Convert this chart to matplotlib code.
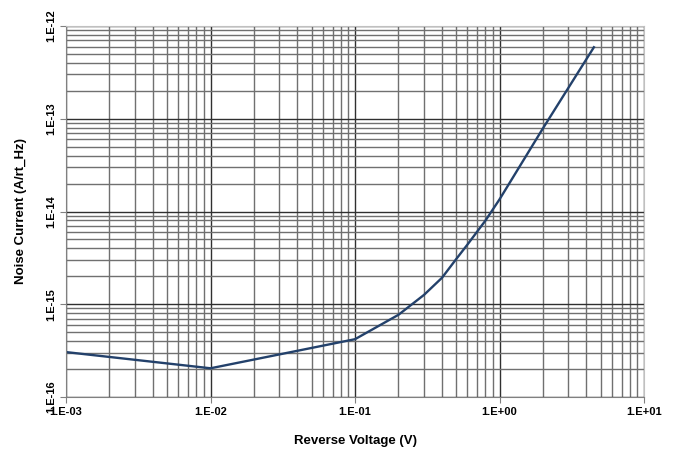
import math
import matplotlib.pyplot as plt
from matplotlib.ticker import LogLocator, FuncFormatter, NullFormatter

# Noise current vs reverse voltage
voltage = [0.001, 0.01, 0.1, 0.2, 0.3, 0.4, 0.5, 0.6, 0.8, 1.0, 2.0, 4.5]
noise = [3.05e-16, 2.04e-16, 4.2e-16, 7.7e-16, 1.26e-15, 1.93e-15, 3.05e-15,
         4.4e-15, 8.0e-15, 1.35e-14, 7.9e-14, 5.9e-13]

xlabel = "Reverse Voltage (V)"
ylabel = "Noise Current (A/rt_Hz)"
line_color = '#23416b'

plt.rcParams['font.family'] = ['Liberation Sans', 'DejaVu Sans']


# Excel style labels like 1.E-03
def sci(v, pos):
    exp = int(round(math.log10(v)))
    sign = '+' if exp >= 0 else '-'
    return "1.E%s%02d" % (sign, abs(exp))


def main():
    fig = plt.figure(figsize=(6.79, 4.5), dpi=100)
    ax = fig.add_axes([66 / 679, 1 - 397 / 450, (644 - 66) / 679, (397 - 26) / 450])

    ax.plot(voltage, noise, color=line_color, linewidth=1.7)

    ax.set_xscale('log')
    ax.set_yscale('log')
    ax.set_xlim(1e-3, 1e1)
    ax.set_ylim(1e-16, 1e-12)

    for axis in (ax.xaxis, ax.yaxis):
        axis.set_major_locator(LogLocator(base=10, numticks=10))
        axis.set_minor_locator(LogLocator(base=10, subs=range(2, 10), numticks=10))
        axis.set_major_formatter(FuncFormatter(sci))
        axis.set_minor_formatter(NullFormatter())

    ax.grid(True, which='major', color='#303030', linewidth=1.0)
    ax.grid(True, which='minor', color='#707070', linewidth=1.0)
    ax.set_axisbelow(True)

    ax.tick_params(which='major', direction='out', length=4, color='#808080',
                   labelsize=8, pad=3)
    ax.tick_params(which='minor', length=0)
    for lab in ax.get_xticklabels() + ax.get_yticklabels():
        lab.set_fontweight('bold')
    for lab in ax.get_yticklabels():
        lab.set_rotation(90)
        lab.set_verticalalignment('center')

    for sp in ax.spines.values():
        sp.set_color('#c0c0c0')
    ax.spines['left'].set_color('#808080')
    ax.spines['bottom'].set_color('#808080')

    ax.set_xlabel(xlabel, fontsize=9.5, fontweight='bold', labelpad=13)
    ax.set_ylabel(ylabel, fontsize=9.5, fontweight='bold', labelpad=14)

    plt.savefig("out.png", dpi=100)


if __name__ == "__main__":
    main()
